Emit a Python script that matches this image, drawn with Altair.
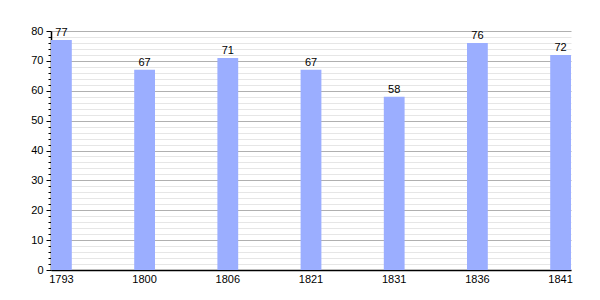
import altair as alt
import pandas as pd

years = ["1793", "1800", "1806", "1821", "1831", "1836", "1841"]
values = [77, 67, 71, 67, 58, 76, 72]

df = pd.DataFrame({"year": years, "value": values})

FONT = "Liberation Sans"

x = alt.X("year:N", sort=None, title=None,
          scale=alt.Scale(paddingInner=0.75, paddingOuter=0),
          axis=alt.Axis(labelAngle=0, ticks=False, domainColor="#000", domainWidth=1.5,
                        labelFlush=False, labelOverlap=False,
                        labelFont=FONT, labelFontSize=11, labelColor="#000", labelPadding=3))
y = alt.Y("value:Q", title=None,
          scale=alt.Scale(domain=[0, 80], nice=False),
          axis=alt.Axis(values=list(range(0, 81, 2)), tickCount=100,
                        labelExpr="datum.value % 10 === 0 ? datum.label : ''",
                        labelOverlap=False, labelFlush=False,
                        gridColor={"condition": {"test": "datum.value % 10 === 0", "value": "#b0b0b0"}, "value": "#e6e6e6"},
                        tickSize={"condition": {"test": "datum.value % 10 === 0", "value": 5}, "value": 3},
                        tickColor="#000", domainColor="#000", domainWidth=1.5,
                        labelFont=FONT, labelFontSize=11, labelColor="#000", labelPadding=3))

bars = alt.Chart(df).mark_bar(color="#9BAEFF").encode(x=x, y=y)
labels = alt.Chart(df).mark_text(baseline="bottom", dy=-2, font=FONT, fontSize=11, color="#000").encode(
    x=alt.X("year:N", sort=None), y="value:Q", text="value:Q")

chart = (bars + labels).properties(
    width=520, height=239,
    autosize=alt.AutoSizeParams(type="none"),
    padding={"left": 51, "top": 31, "right": 29, "bottom": 30},
).configure_view(stroke=None)

chart.save("out.html", embed_options={"renderer": "svg", "actions": False})
